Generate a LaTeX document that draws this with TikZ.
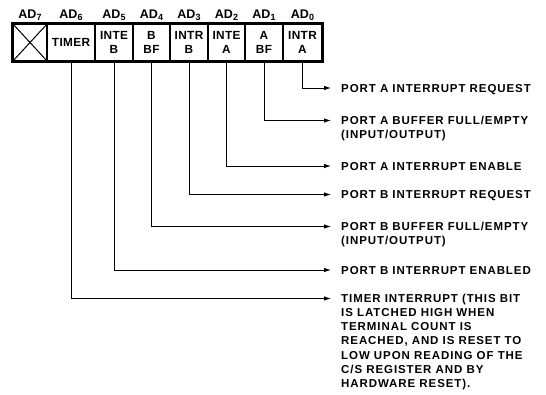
\documentclass[tikz,border=0pt]{standalone}
\usepackage{fontspec}
\setmainfont{Liberation Sans}
\newfontfamily\lblfont[LetterSpace=8]{Liberation Sans}
\newfontfamily\cellfont[LetterSpace=3]{Liberation Sans}
\usetikzlibrary{arrows.meta}

\newcommand{\adbit}[1]{AD\raisebox{-2pt}{\fontsize{9}{9}\selectfont #1}}

\begin{document}
\begin{tikzpicture}[x=1pt, y=-1pt,
  cell/.style={draw, line width=1.1pt, minimum height=37pt, inner sep=0pt, align=center,
    font=\cellfont\bfseries\fontsize{11.8}{13.5}\selectfont},
  head/.style={anchor=base, inner sep=0pt, font=\bfseries\fontsize{12.5}{14}\selectfont},
  lbl/.style={anchor=north west, inner sep=0pt, align=left,
    font=\lblfont\bfseries\fontsize{11.5}{14.2}\selectfont,
    execute at begin node={\rule{0pt}{9pt}}},
  conn/.style={line width=0.8pt, -{Latex[length=7pt, width=4.5pt]}}]
  \useasboundingbox (0,0) rectangle (546,394);

  % Bit names
  \node[head] (h7) at (30,18.5)    {\adbit{7}};
  \node[head] (h6) at (71,18.5)    {\adbit{6}};
  \node[head] (h5) at (114,18.5)   {\adbit{5}};
  \node[head] (h4) at (151.5,18.5) {\adbit{4}};
  \node[head] (h3) at (189,18.5)   {\adbit{3}};
  \node[head] (h2) at (226.5,18.5) {\adbit{2}};
  \node[head] (h1) at (264,18.5)   {\adbit{1}};
  \node[head] (h0) at (302.5,18.5) {\adbit{0}};

  % Register cells
  \node[cell, minimum width=34pt] (b7) at (30,42.5)    {};
  \node[cell, minimum width=48pt] (b6) at (71,42.5)    {TIMER};
  \node[cell, minimum width=38pt] (b5) at (114,42.5)   {INTE\\B};
  \node[cell, minimum width=37pt] (b4) at (151.5,42.5) {B\\BF};
  \node[cell, minimum width=38pt] (b3) at (189,42.5)   {INTR\\B};
  \node[cell, minimum width=37pt] (b2) at (226.5,42.5) {INTE\\A};
  \node[cell, minimum width=38pt] (b1) at (264,42.5)   {A\\BF};
  \node[cell, minimum width=39pt] (b0) at (302.5,42.5) {INTR\\A};
  \draw[line width=2.4pt] (b7.north west) rectangle (b0.south east);
  \draw[line width=1pt] (b7.north west) -- (b7.south east);
  \draw[line width=1pt] (b7.south west) -- (b7.north east);

  % Arrow ends
  \coordinate (t0) at (331,88);
  \coordinate (t1) at (331,120.5);
  \coordinate (t2) at (331,166);
  \coordinate (t3) at (331,194.5);
  \coordinate (t4) at (331,226.5);
  \coordinate (t5) at (331,270);
  \coordinate (t6) at (331,298.5);

  % Descriptions
  \node[lbl] (l0) at (341,83.2)  {PORT A INTERRUPT REQUEST};
  \node[lbl] (l1) at (341,115.7) {PORT A BUFFER FULL/EMPTY\\(INPUT/OUTPUT)};
  \node[lbl] (l2) at (341,161.2) {PORT A INTERRUPT ENABLE};
  \node[lbl] (l3) at (341,189.7) {PORT B INTERRUPT REQUEST};
  \node[lbl] (l4) at (341,221.7) {PORT B BUFFER FULL/EMPTY\\(INPUT/OUTPUT)};
  \node[lbl] (l5) at (341,265.2) {PORT B INTERRUPT ENABLED};
  \node[lbl] (l6) at (341,293.7) {TIMER INTERRUPT (THIS BIT\\IS LATCHED HIGH WHEN\\TERMINAL COUNT IS\\REACHED, AND IS RESET TO\\LOW UPON READING OF THE\\C/S REGISTER AND BY\\HARDWARE RESET).};

  % Connectors
  \draw[conn] (b0.south) |- (t0);
  \draw[conn] (b1.south) |- (t1);
  \draw[conn] (b2.south) |- (t2);
  \draw[conn] (b3.south) |- (t3);
  \draw[conn] (b4.south) |- (t4);
  \draw[conn] (b5.south) |- (t5);
  \draw[conn] (b6.south) |- (t6);
\end{tikzpicture}
\end{document}
